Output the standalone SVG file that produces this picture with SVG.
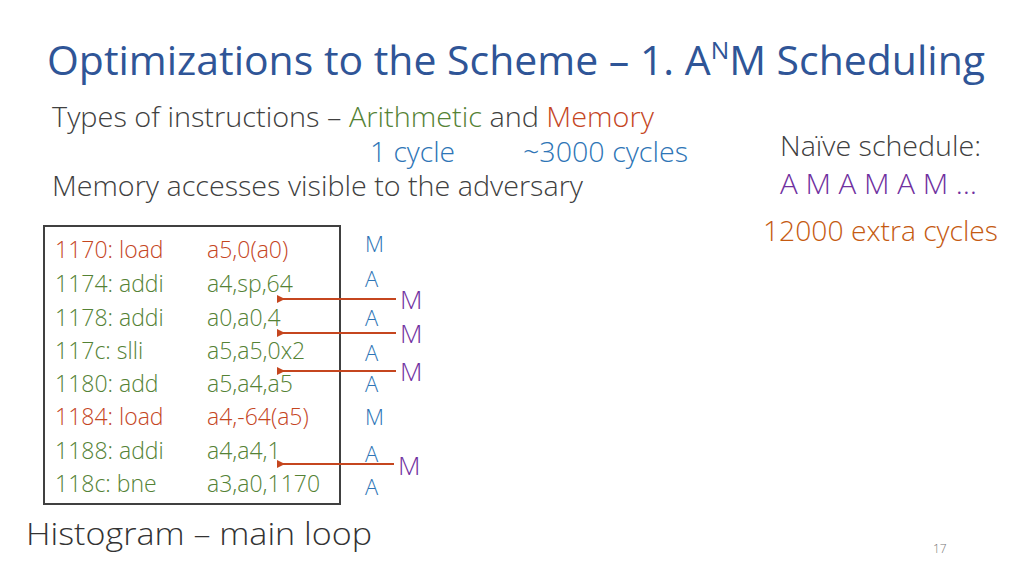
<svg xmlns="http://www.w3.org/2000/svg" width="1024" height="576" viewBox="0 0 1024 576">
<defs>
<style>
text{font-family:"Open Sans","Liberation Sans",sans-serif;font-weight:300}
.t{font-size:40px;fill:#2F5597;font-weight:400}
.b{font-size:27px;fill:#404040}
.g{fill:#548235}.r{fill:#C5461F}.bl{fill:#2E75B6}.p{fill:#7030A0}.o{fill:#C55A11}
.c{font-size:23px}
.s{font-size:22px;fill:#2E75B6}
.m{font-size:26px;fill:#7030A0}
.ar{stroke:#C5461F;stroke-width:2;fill:none}
</style>
<marker id="ah" markerWidth="8" markerHeight="8" refX="7" refY="4" orient="auto-start-reverse" markerUnits="userSpaceOnUse" viewBox="0 0 8 8"><path d="M8,0 L0,4 L8,8 Z" fill="#C5461F"/></marker>
</defs>
<rect width="1024" height="576" fill="#fff"/>
<text class="t" x="47" y="75" textLength="938" lengthAdjust="spacingAndGlyphs">Optimizations to the Scheme – 1. A<tspan dy="-16" font-size="24">N</tspan><tspan dy="16">M Scheduling</tspan></text>
<text class="b" x="52" y="127" textLength="602" lengthAdjust="spacingAndGlyphs">Types of instructions – <tspan class="g">Arithmetic</tspan> and <tspan class="r">Memory</tspan></text>
<text class="b bl" x="370" y="162" textLength="85" lengthAdjust="spacingAndGlyphs" style="fill:#2E75B6">1 cycle</text>
<text class="b" x="523" y="162" textLength="165" lengthAdjust="spacingAndGlyphs" style="fill:#2E75B6">~3000 cycles</text>
<text class="b" x="52" y="196" textLength="531" lengthAdjust="spacingAndGlyphs">Memory accesses visible to the adversary</text>
<text class="b" x="780" y="156" textLength="201" lengthAdjust="spacingAndGlyphs">Naïve schedule:</text>
<text class="b" x="780" y="194" textLength="197" lengthAdjust="spacingAndGlyphs" style="fill:#7030A0">A M A M A M …</text>
<text class="b" x="763" y="241" textLength="235" lengthAdjust="spacingAndGlyphs" style="fill:#C55A11">12000 extra cycles</text>
<g id="code">
<rect x="44" y="226" width="296" height="278" fill="#fff" stroke="#404040" stroke-width="2"/>
<g class="c">
<text class="r" x="55" y="258">1170: load</text><text class="r" x="207" y="258">a5,0(a0)</text>
<text class="g" x="55" y="292">1174: addi</text><text class="g" x="207" y="292">a4,sp,64</text>
<text class="g" x="55" y="326">1178: addi</text><text class="g" x="207" y="326">a0,a0,4</text>
<text class="g" x="55" y="359">117c: slli</text><text class="g" x="207" y="359">a5,a5,0x2</text>
<text class="g" x="55" y="392">1180: add</text><text class="g" x="207" y="392">a5,a4,a5</text>
<text class="r" x="55" y="425">1184: load</text><text class="r" x="207" y="425">a4,-64(a5)</text>
<text class="g" x="55" y="459">1188: addi</text><text class="g" x="207" y="459">a4,a4,1</text>
<text class="g" x="55" y="492">118c: bne</text><text class="g" x="207" y="492">a3,a0,1170</text>
</g>
</g>
<g id="sched">
<text class="s" x="365" y="252">M</text><text class="s" x="365" y="287">A</text>
<text class="s" x="365" y="326">A</text><text class="s" x="365" y="361">A</text>
<text class="s" x="365" y="392">A</text><text class="s" x="365" y="425">M</text>
<text class="s" x="365" y="462">A</text><text class="s" x="365" y="495">A</text>
<text class="m" x="400" y="309">M</text><text class="m" x="400" y="343">M</text>
<text class="m" x="400" y="381">M</text><text class="m" x="398" y="475">M</text>
</g>
<g id="connectors">
<line class="ar" x1="396" y1="299" x2="278" y2="299" marker-end="url(#ah)"/>
<line class="ar" x1="396" y1="333" x2="278" y2="333" marker-end="url(#ah)"/>
<line class="ar" x1="396" y1="371" x2="278" y2="371" marker-end="url(#ah)"/>
<line class="ar" x1="394" y1="464" x2="278" y2="464" marker-end="url(#ah)"/>
</g>
<text x="26" y="545" font-size="32" fill="#333" textLength="346" lengthAdjust="spacingAndGlyphs">Histogram – main loop</text>
<text x="933" y="553" font-size="12" fill="#777">17</text>
</svg>
